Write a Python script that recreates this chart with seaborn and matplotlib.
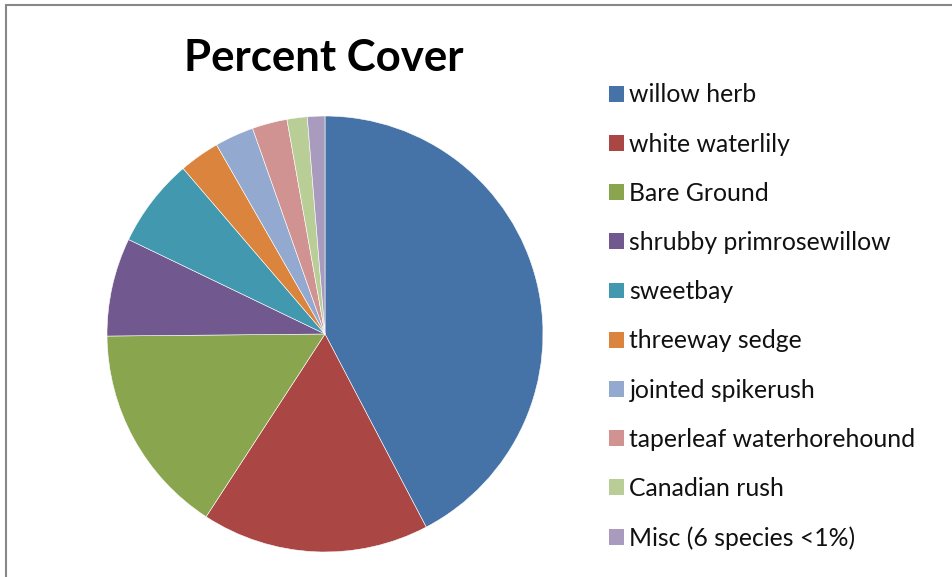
import matplotlib
matplotlib.use("Agg")
from matplotlib import pyplot as plt
from matplotlib.patches import Rectangle, Patch
import seaborn as sns

species = ['willow herb', 'white waterlily', 'Bare Ground', 'shrubby primrosewillow',
           'sweetbay', 'threeway sedge', 'jointed spikerush', 'taperleaf waterhorehound',
           'Canadian rush', 'Misc (6 species <1%)']
cover = [42.4, 16.9, 15.7, 7.3, 6.6, 3.0, 2.9, 2.6, 1.5, 1.3]
colors = ['#4572A7', '#AA4643', '#89A54E', '#71588F', '#4198AF',
          '#DB843D', '#93A9CF', '#D19392', '#B9CD96', '#A99BBD']

sns.set_theme(style="white")
plt.rcParams['font.family'] = ['Lato', 'DejaVu Sans']
pal = sns.color_palette(colors)

W, H = 952, 577
fig = plt.figure(figsize=(W / 100, H / 100), dpi=100)

# outer chart border (Excel style)
fig.add_artist(Rectangle((6 / W, -0.1), 1.2, 1 - 4.5 / H + 0.1, transform=fig.transFigure,
                         fill=False, edgecolor='#878787', linewidth=1.5))

cx, cy, r = 325, 334, 218
ax = fig.add_axes([(cx - r) / W, (H - cy - r) / H, 2 * r / W, 2 * r / H])
ax.pie(cover, colors=pal, startangle=90, counterclock=False, radius=1,
       wedgeprops=dict(edgecolor='white', linewidth=0.4))
ax.set_xlim(-1, 1)
ax.set_ylim(-1, 1)
ax.set_aspect('auto')
ax.axis('off')

fig.text(324 / W, 1 - 58 / H, 'Percent Cover', ha='center', va='center',
         fontsize=31.5, fontweight='bold', color='black')

handles = [Patch(facecolor=c, edgecolor='none') for c in pal]
leg = fig.legend(handles, species, loc='upper left', bbox_to_anchor=(600 / W, 1 - 74 / H),
                 frameon=False, fontsize=17.8, handlelength=0.61, handleheight=0.61,
                 handletextpad=0.2, labelspacing=1.06, borderaxespad=0, borderpad=0.38)
for t in leg.get_texts():
    t.set_color('#111111')

plt.savefig('out.png', dpi=100)
